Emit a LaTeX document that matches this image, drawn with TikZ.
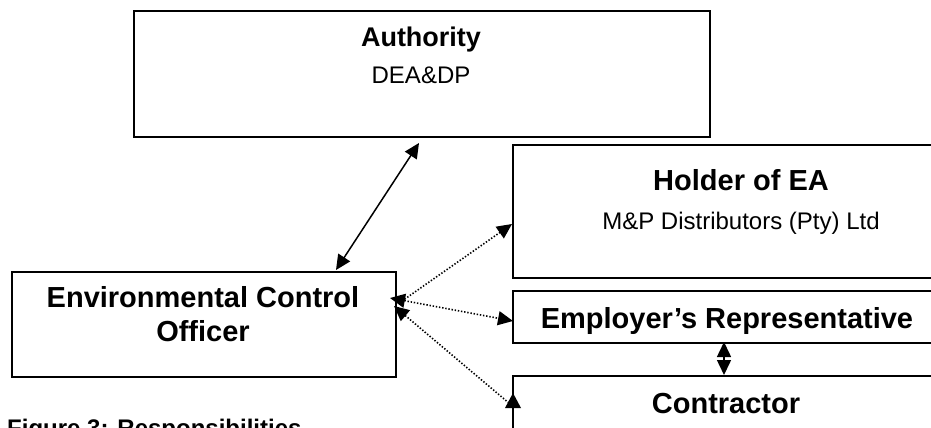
\documentclass[tikz,border=0pt]{standalone}
\usepackage{fontspec}
\setmainfont{Liberation Sans}
\usetikzlibrary{arrows.meta}
\begin{document}
\begin{tikzpicture}[x=1pt,y=-1pt,
  box/.style={draw, line width=1.6pt, inner sep=0pt, anchor=north west},
  lab/.style={font=\bfseries\fontsize{29}{34}\selectfont, anchor=base, inner sep=0pt},
  sub/.style={font=\fontsize{24}{28}\selectfont, anchor=base, inner sep=0pt},
  solidarr/.style={line width=1.5pt, {Triangle[length=15pt,width=14pt]}-{Triangle[length=15pt,width=14pt]}},
  dotarr/.style={line width=1.6pt, dash pattern=on 1.4pt off 1.8pt}
]
\useasboundingbox (0,0) rectangle (931,428);
\clip (0,0) rectangle (931,428);
% boxes
\node[box, minimum width=576pt, minimum height=126pt] (auth) at (133,10) {};
\node[box, minimum width=460pt, minimum height=133pt] (hold) at (512,144) {};
\node[box, minimum width=430pt, minimum height=52pt] (emp) at (512,290) {};
\node[box, minimum width=430pt, minimum height=80pt] (con) at (512,375) {};
\node[box, minimum width=384pt, minimum height=105pt] (eco) at (11,271) {};
% texts
\node[lab, font=\bfseries\fontsize{27}{32}\selectfont] (authT) at (421,47) {Authority};
\node[sub] (authS) at (421,84) {DEA\&DP};
\node[lab] (holdT) at (741,190) {Holder of EA};
\node[sub] (holdS) at (741,229) {M\&P Distributors (Pty) Ltd};
\node[lab] (empT) at (727,328) {Employer’s Representative};
\node[lab] (conT) at (726,413) {Contractor};
\node[lab] (ecoT1) at (203,307) {Environmental Control};
\node[lab] (ecoT2) at (203,341) {Officer};
\node[lab, anchor=base west, font=\bfseries\fontsize{24}{28}\selectfont] (fig) at (7,436) {Figure 3: Responsibilities};
% connectors
\coordinate (a1) at (336,270);
\coordinate (a2) at (419,143);
\draw[solidarr] (a1) -- (a2);
\coordinate (e1) at (724,342);
\coordinate (e2) at (724,375);
\draw[solidarr] (e1) -- (e2);
\coordinate (h1) at (402,301);
\coordinate (h2) at (512,224);
\draw[dotarr, -{Triangle[length=15pt,width=14pt]}] (h1) -- (h2);
\coordinate (m1) at (390,298);
\coordinate (m2) at (513,321);
\draw[dotarr, {Triangle[length=15pt,width=14pt]}-{Triangle[length=15pt,width=14pt]}] (m1) -- (m2);
\coordinate (c1) at (394,306);
\coordinate (c2) at (510,404);
\draw[dotarr, {Triangle[length=15pt,width=14pt]}-] (c1) -- (c2);
\fill (513,393) -- (521,408) -- (505,408) -- cycle;
\end{tikzpicture}
\end{document}
